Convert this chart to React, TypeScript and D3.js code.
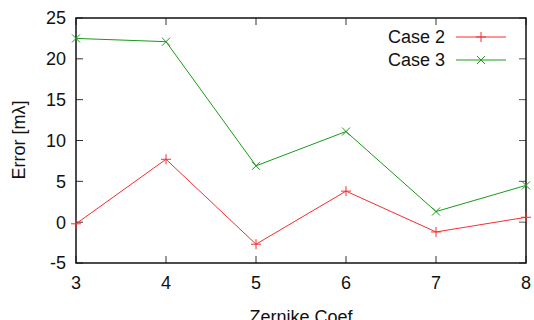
import React, { useEffect, useRef } from 'react';
import * as d3 from 'd3';

const coefs = [3, 4, 5, 6, 7, 8];
const case2 = [-0.2, 7.7, -2.7, 3.8, -1.2, 0.6];
const case3 = [22.5, 22.1, 6.9, 11.1, 1.3, 4.5];
const yTicks = [-5, 0, 5, 10, 15, 20, 25];

const App = () => {
    const ref = useRef<SVGSVGElement>(null);

    useEffect(() => {
        const width = 534;
        const height = 320;
        const margin = { top: 18, right: 8, bottom: 57, left: 76 };
        const font = '"Liberation Sans", Arial, sans-serif';
        const fs = 18;

        const svg = d3.select(ref.current);
        svg.selectAll('*').remove();
        svg.attr('width', width).attr('height', height)
            .style('font-family', font);

        const x = d3.scaleLinear().domain([3, 8]).range([margin.left, width - margin.right]);
        const y = d3.scaleLinear().domain([-5, 25]).range([height - margin.bottom, margin.top]);

        const x0 = x.range()[0], x1 = x.range()[1];
        const y0 = y.range()[0], y1 = y.range()[1];
        const tick = 7;

        // ticks (inward, mirrored)
        const g = svg.append('g');
        yTicks.forEach(t => {
            g.append('line').attr('x1', x0).attr('x2', x0 + tick).attr('y1', y(t)).attr('y2', y(t))
                .attr('stroke', '#333');
            g.append('line').attr('x1', x1).attr('x2', x1 - tick).attr('y1', y(t)).attr('y2', y(t))
                .attr('stroke', '#555');
            g.append('text').attr('x', x0 - 10).attr('y', y(t)).attr('dy', '0.36em')
                .attr('text-anchor', 'end').attr('font-size', fs).attr('fill', '#111').text(t);
        });
        coefs.forEach(c => {
            g.append('line').attr('x1', x(c)).attr('x2', x(c)).attr('y1', y0).attr('y2', y0 - tick)
                .attr('stroke', '#333');
            g.append('line').attr('x1', x(c)).attr('x2', x(c)).attr('y1', y1).attr('y2', y1 + tick)
                .attr('stroke', '#333');
            g.append('text').attr('x', x(c)).attr('y', y0 + 26)
                .attr('text-anchor', 'middle').attr('font-size', fs).attr('fill', '#111').text(c);
        });

        // frame
        svg.append('rect').attr('x', x0).attr('y', y1).attr('width', x1 - x0).attr('height', y0 - y1)
            .attr('fill', 'none').attr('stroke', '#111').attr('stroke-width', 1.5);

        // axis labels
        svg.append('text').attr('x', (x0 + x1) / 2).attr('y', 323)
            .attr('text-anchor', 'middle').attr('font-size', fs).attr('fill', '#111').text('Zernike Coef');
        svg.append('text').attr('transform', 'translate(25,140) rotate(-90)')
            .attr('text-anchor', 'middle').attr('font-size', fs).attr('fill', '#111').text('Error [mλ]');

        const line = d3.line<number>().x((_, i) => x(coefs[i])).y(d => y(d));
        const s = 5;
        const plus = (sel: any, cx: number, cy: number, color: string) => {
            sel.append('path').attr('d', `M${cx - s},${cy}H${cx + s}M${cx},${cy - s}V${cy + s}`)
                .attr('stroke', color).attr('fill', 'none');
        };
        const cross = (sel: any, cx: number, cy: number, color: string) => {
            const r = s * 0.8;
            sel.append('path').attr('d', `M${cx - r},${cy - r}L${cx + r},${cy + r}M${cx - r},${cy + r}L${cx + r},${cy - r}`)
                .attr('stroke', color).attr('fill', 'none');
        };

        const series = [
            { name: 'Case 2', values: case2, color: '#f03030', mark: plus },
            { name: 'Case 3', values: case3, color: '#1a9a1a', mark: cross },
        ];

        const plot = svg.append('g');
        series.forEach((sr, k) => {
            plot.append('path').datum(sr.values).attr('d', line)
                .attr('fill', 'none').attr('stroke', sr.color).attr('stroke-width', 1);
            sr.values.forEach((v, i) => sr.mark(plot, x(coefs[i]), y(v), sr.color));

            const ly = 37 + k * 23;
            svg.append('text').attr('x', 445).attr('y', ly).attr('dy', '0.36em')
                .attr('text-anchor', 'end').attr('font-size', fs).attr('fill', '#111').text(sr.name);
            svg.append('line').attr('x1', 456).attr('x2', 506).attr('y1', ly).attr('y2', ly)
                .attr('stroke', sr.color);
            sr.mark(svg, 481, ly, sr.color);
        });
    }, []);

    return (
        <svg ref={ref} style={{ position: 'absolute', left: 0, top: 0 }}></svg>
    );
};

export default App;
